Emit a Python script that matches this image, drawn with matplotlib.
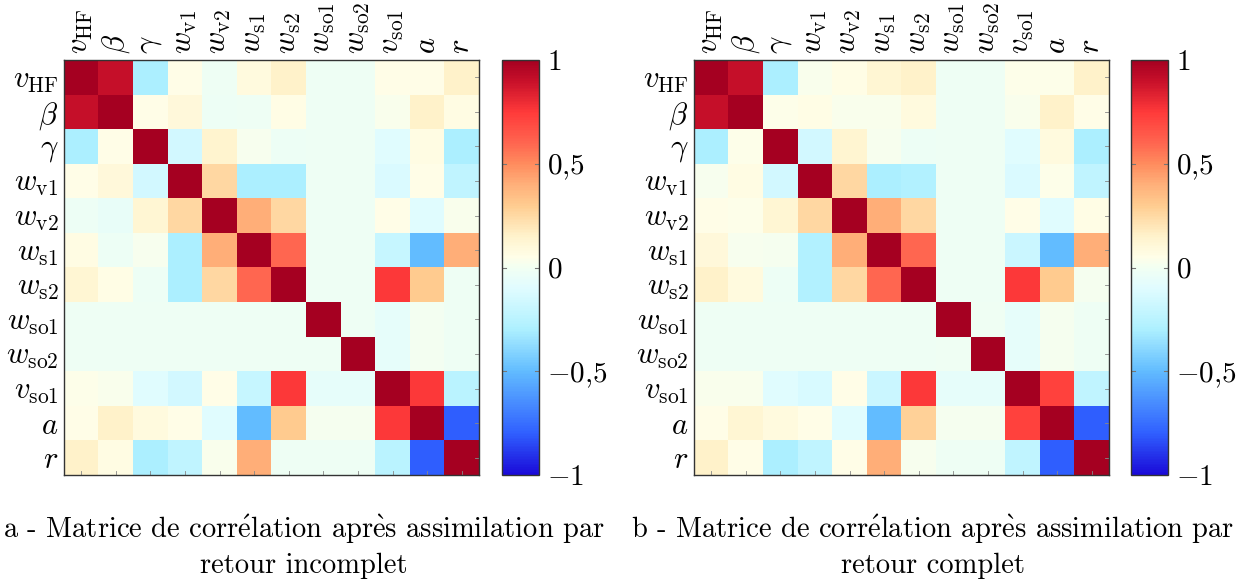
import numpy as np
import matplotlib
matplotlib.use("Agg")
import matplotlib.pyplot as plt
from matplotlib.colors import LinearSegmentedColormap

plt.rcParams['mathtext.fontset'] = 'cm'
plt.rcParams['font.family'] = ['cmr10', 'DejaVu Serif']
plt.rcParams['axes.unicode_minus'] = False

labels = [r"$v_{\mathrm{HF}}$", r"$\beta$", r"$\gamma$", r"$w_{\mathrm{v1}}$", r"$w_{\mathrm{v2}}$",
          r"$w_{\mathrm{s1}}$", r"$w_{\mathrm{s2}}$", r"$w_{\mathrm{so1}}$", r"$w_{\mathrm{so2}}$",
          r"$v_{\mathrm{so1}}$", r"$a$", r"$r$"]

corr_incomplete = [
    [1.00, 0.90, -0.30, 0.05, -0.02, 0.08, 0.15, -0.02, -0.02, 0.05, 0.05, 0.15],
    [0.90, 1.00, 0.05, 0.10, -0.03, -0.02, 0.06, -0.02, -0.02, 0.03, 0.15, 0.07],
    [-0.30, 0.05, 1.00, -0.15, 0.14, 0.02, -0.03, -0.02, -0.02, -0.10, 0.07, -0.30],
    [0.05, 0.10, -0.15, 1.00, 0.25, -0.30, -0.30, -0.02, -0.02, -0.12, 0.05, -0.22],
    [-0.03, -0.05, 0.12, 0.25, 1.00, 0.40, 0.25, -0.02, -0.02, 0.05, -0.10, 0.03],
    [0.07, -0.03, 0.02, -0.30, 0.40, 1.00, 0.60, -0.02, -0.02, -0.20, -0.50, 0.40],
    [0.12, 0.06, -0.03, -0.30, 0.25, 0.60, 1.00, -0.02, -0.02, 0.75, 0.30, -0.02],
    [-0.02, -0.02, -0.02, -0.02, -0.02, -0.02, -0.02, 1.00, -0.02, -0.07, 0.00, -0.02],
    [-0.02, -0.02, -0.02, -0.02, -0.02, -0.02, -0.02, -0.02, 1.00, -0.07, 0.00, -0.02],
    [0.04, 0.03, -0.10, -0.15, 0.05, -0.20, 0.75, -0.07, -0.07, 1.00, 0.75, -0.25],
    [0.05, 0.15, 0.08, 0.05, -0.10, -0.50, 0.30, 0.01, 0.01, 0.75, 1.00, -0.80],
    [0.15, 0.07, -0.30, -0.22, 0.03, 0.40, -0.02, -0.02, -0.02, -0.25, -0.80, 1.00],
]

corr_complete = [
    [1.00, 0.90, -0.30, 0.03, 0.06, 0.12, 0.15, -0.02, -0.02, 0.04, 0.04, 0.15],
    [0.90, 1.00, 0.04, 0.06, 0.03, 0.03, 0.08, -0.02, -0.02, 0.03, 0.15, 0.05],
    [-0.30, 0.04, 1.00, -0.15, 0.13, 0.02, -0.03, -0.02, -0.02, -0.10, 0.08, -0.30],
    [0.02, 0.07, -0.15, 1.00, 0.25, -0.30, -0.28, -0.02, -0.02, -0.12, 0.04, -0.22],
    [0.05, 0.04, 0.12, 0.25, 1.00, 0.40, 0.25, -0.02, -0.02, 0.05, -0.10, 0.06],
    [0.10, 0.02, 0.01, -0.28, 0.40, 1.00, 0.60, -0.02, -0.02, -0.18, -0.50, 0.40],
    [0.15, 0.08, -0.03, -0.28, 0.25, 0.60, 1.00, -0.02, -0.02, 0.75, 0.30, 0.01],
    [-0.02, -0.02, -0.02, -0.02, -0.02, -0.02, -0.02, 1.00, -0.01, -0.07, 0.01, -0.02],
    [-0.02, -0.02, -0.02, -0.02, -0.02, -0.02, -0.02, -0.01, 1.00, -0.07, 0.01, -0.02],
    [0.03, 0.03, -0.10, -0.13, 0.05, -0.18, 0.75, -0.07, -0.07, 1.00, 0.72, -0.22],
    [0.05, 0.12, 0.08, 0.05, -0.10, -0.50, 0.28, 0.01, 0.01, 0.72, 1.00, -0.80],
    [0.15, 0.05, -0.30, -0.22, 0.05, 0.40, 0.02, -0.02, -0.02, -0.22, -0.80, 1.00],
]

cbar_ticks = [-1, -0.5, 0, 0.5, 1]
cbar_ticklabels = [r"$-1$", r"$-0{,}5$", r"$0$", r"$0{,}5$", r"$1$"]

captions = [
    "a - Matrice de corr$\\mathrm{\\acute{e}}$lation apr$\\mathrm{\\grave{e}}$s assimilation par\nretour incomplet",
    "b - Matrice de corr$\\mathrm{\\acute{e}}$lation apr$\\mathrm{\\grave{e}}$s assimilation par\nretour complet",
]

stops = [
    (-1.00, "#1a0ad8"),
    (-0.80, "#3060ff"),
    (-0.50, "#62bcff"),
    (-0.30, "#adf0ff"),
    (-0.10, "#e0fcff"),
    (0.00, "#f2fff2"),
    (0.05, "#fffee8"),
    (0.15, "#fff3cc"),
    (0.30, "#ffcc90"),
    (0.40, "#ffb07a"),
    (0.50, "#ff8c5e"),
    (0.60, "#ff6650"),
    (0.75, "#ff3a3a"),
    (0.90, "#c8102a"),
    (1.00, "#a50021"),
]
cmap = LinearSegmentedColormap.from_list("corr", [((v + 1) / 2, c) for v, c in stops])

W, H = 1240, 585
fig = plt.figure(figsize=(W / 100, H / 100), dpi=100)

def fx(px):
    return px / W

def fy(py):
    return 1 - py / H

panels = [
    (corr_incomplete, 64, 502, captions[0], 304),
    (corr_complete, 694, 1131, captions[1], 933),
]

n = len(labels)
for data, x0, cx0, cap, capx in panels:
    ax = fig.add_axes([fx(x0), fy(475), fx(415), 415 / H])
    im = ax.imshow(np.array(data), cmap=cmap, vmin=-1, vmax=1, aspect='auto',
                   interpolation='nearest')
    ax.set_xticks(range(n))
    ax.set_yticks(range(n))
    ax.set_xticklabels(labels, rotation=90, fontsize=22)
    ax.set_yticklabels(labels, fontsize=22)
    ax.xaxis.tick_top()
    ax.tick_params(axis='both', which='both', length=0, pad=4)
    for s in ax.spines.values():
        s.set_linewidth(1.0)
        s.set_color('#333333')
    for i in range(n):
        ax.plot([i, i], [n - 0.5, n - 0.5 - 0.12], color='#888888', lw=0.6, clip_on=False)
        ax.plot([n - 0.5, n - 0.5 - 0.12], [i, i], color='#888888', lw=0.6, clip_on=False)
    ax.set_xlim(-0.5, n - 0.5)
    ax.set_ylim(n - 0.5, -0.5)

    cax = fig.add_axes([fx(cx0), fy(475), fx(37), 415 / H])
    cb = fig.colorbar(im, cax=cax)
    cb.set_ticks(cbar_ticks)
    cb.set_ticklabels(cbar_ticklabels)
    cax.tick_params(labelsize=21, length=0, pad=6)
    cb.outline.set_linewidth(1.0)
    cb.outline.set_edgecolor('#333333')
    for t in [-0.5, 0, 0.5]:
        cax.plot([0, 0.12], [t, t], color='#777777', lw=0.8, transform=cax.get_yaxis_transform())
        cax.plot([0.88, 1.0], [t, t], color='#777777', lw=0.8, transform=cax.get_yaxis_transform())

    fig.text(fx(capx), fy(546), cap, ha='center', va='center', fontsize=20.5, linespacing=1.35)

fig.savefig("out.png", dpi=100)
